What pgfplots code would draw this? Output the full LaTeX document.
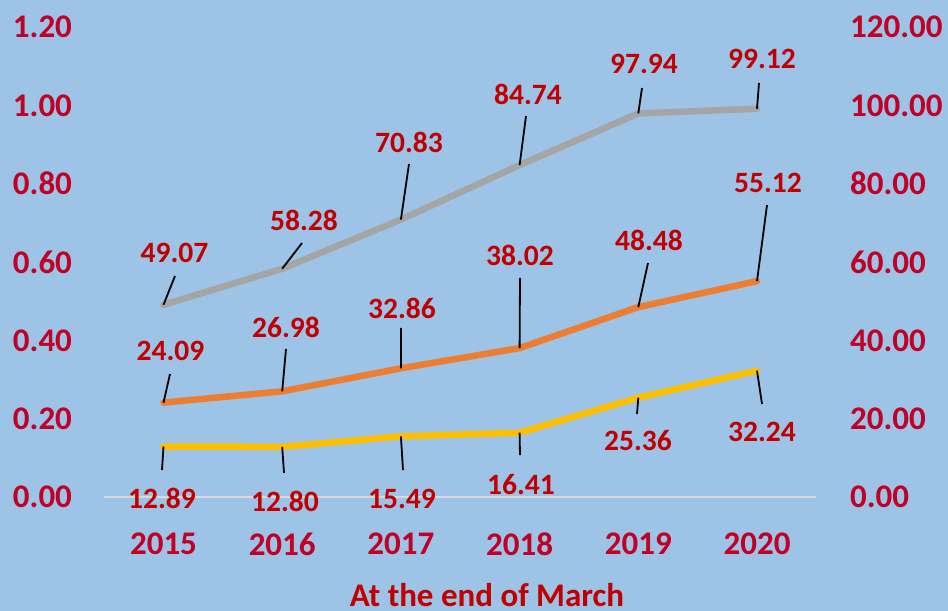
\documentclass[border=0pt]{standalone}
\usepackage{pgfplots}
\pgfplotsset{compat=1.18}
\usepackage{fontspec}
\setmainfont{Carlito}
\definecolor{bgc}{HTML}{9DC3E6}
\definecolor{tickred}{RGB}{192,0,36}
\definecolor{labred}{RGB}{192,0,0}
\definecolor{cgray}{HTML}{A5A5A5}
\definecolor{corange}{HTML}{ED7D31}
\definecolor{cyellow}{HTML}{FFC000}
\definecolor{baseline}{HTML}{D9D9D9}

\pgfplotstableread{
x y lx ly tx ty
0 49.07 11.5 28.8 11 51.8
1 58.28 19.8 25.7 21.8 48.7
2 70.83 8.1 55.6 8.1 77.6
3 84.74 6.4 49.1 8.4 71.1
4 97.94 3.7 25.4 5.7 49.4
5 99.12 2 25.8 5 49.8
}\graydata
\pgfplotstableread{
x y lx ly tx ty
0 24.09 6.5 28.6 7 51.6
1 26.98 3.8 42.3 3.8 64.3
2 32.86 0.1 40.3 1.1 60.3
3 38.02 0.4 70.1 0.4 93.1
4 48.48 9.7 44.1 10.7 67.1
5 55.12 10 76.1 11 98.1
}\orangedata
\pgfplotstableread{
x y lx ly tx ty
0 12.89 -1.5 -23.5 -1.5 -51.5
1 12.80 1.8 -26.1 2.8 -54.1
2 15.49 2.1 -33.7 1.1 -62.7
3 16.41 0.4 -22.3 1.4 -52.3
4 25.36 -1.3 -16.3 -0.3 -43.3
5 32.24 5 -33.3 5 -61.3
}\yellowdata

\pgfplotsset{
  mylabels/.style={
    only marks, scatter, mark=*, mark size=0pt,
    mark options={draw=none, fill=none},
    visualization depends on={\thisrow{lx} \as \lx},
    visualization depends on={\thisrow{ly} \as \ly},
    visualization depends on={\thisrow{tx} \as \tx},
    visualization depends on={\thisrow{ty} \as \ty},
    visualization depends on={\thisrow{y} \as \lab},
    scatter/@pre marker code/.code={%
      \scope
      \draw[black, line width=1.8bp, line cap=butt] (0bp,0bp) -- (\lx bp,\ly bp);
      \node[anchor=center, inner sep=0pt, text=labred,
        font=\fontsize{29.5bp}{35bp}\selectfont\bfseries] at (\tx bp,\ty bp)
        {\pgfmathprintnumber[fixed, fixed zerofill, precision=2, assume math mode=true]{\lab}};
    },
    scatter/@post marker code/.code={\endscope},
  },
  myline/.style={line width=6.5bp, line cap=round, line join=round, mark=none},
}

\begin{document}
\begin{tikzpicture}[x=1bp,y=1bp]
\path[use as bounding box] (0,0) rectangle (948,611);
\fill[bgc] (0,0) rectangle (948,611);

% left axis (0 - 1.2)
\begin{axis}[
  at={(104.15bp,114bp)}, anchor=south west,
  scale only axis, width=712.2bp, height=470bp,
  xmin=-0.5, xmax=5.5, ymin=0, ymax=1.2,
  hide x axis,
  axis y line*=left,
  y axis line style={draw=none},
  major tick length=0pt,
  ytick={0,0.2,0.4,0.6,0.8,1.0,1.2},
  scaled y ticks=false,
  yticklabel style={
    /pgf/number format/fixed,
    /pgf/number format/fixed zerofill,
    /pgf/number format/precision=2,
    /pgf/number format/assume math mode=true,
    anchor=east, inner sep=0pt, xshift=-32bp,
    font=\fontsize{33bp}{40bp}\selectfont\bfseries, text=tickred},
]
\addplot[draw=none, mark=none] coordinates {(0,0)};
\end{axis}

% right axis with data (0 - 120)
\begin{axis}[
  at={(104.15bp,114bp)}, anchor=south west,
  scale only axis, width=712.2bp, height=470bp,
  xmin=-0.5, xmax=5.5, ymin=0, ymax=120,
  axis y line*=right,
  axis x line*=bottom,
  y axis line style={draw=none},
  x axis line style={-, draw=baseline, line width=2bp},
  major tick length=0pt,
  clip=false,
  ytick={0,20,40,60,80,100,120},
  scaled y ticks=false,
  yticklabel style={
    /pgf/number format/fixed,
    /pgf/number format/fixed zerofill,
    /pgf/number format/precision=2,
    /pgf/number format/assume math mode=true,
    anchor=west, inner sep=0pt, xshift=33.6bp,
    font=\fontsize{33bp}{40bp}\selectfont\bfseries, text=tickred},
  xtick={0,1,2,3,4,5},
  xticklabels={2015,2016,2017,2018,2019,2020},
  xticklabel style={anchor=center, inner sep=0pt, yshift=-47bp,
    font=\fontsize{33bp}{40bp}\selectfont\bfseries, text=tickred},
]
\addplot[cgray, myline] table[x=x, y=y] {\graydata};
\addplot[corange, myline] table[x=x, y=y] {\orangedata};
\addplot[cyellow, myline] table[x=x, y=y] {\yellowdata};
\addplot[mylabels] table[x=x, y=y] {\graydata};
\addplot[mylabels] table[x=x, y=y] {\orangedata};
\addplot[mylabels] table[x=x, y=y] {\yellowdata};
\end{axis}

\node[anchor=base, inner sep=0pt, text=labred,
  font=\fontsize{33bp}{40bp}\selectfont\bfseries] at (487,4.5) {At the end of March};
\end{tikzpicture}
\end{document}
